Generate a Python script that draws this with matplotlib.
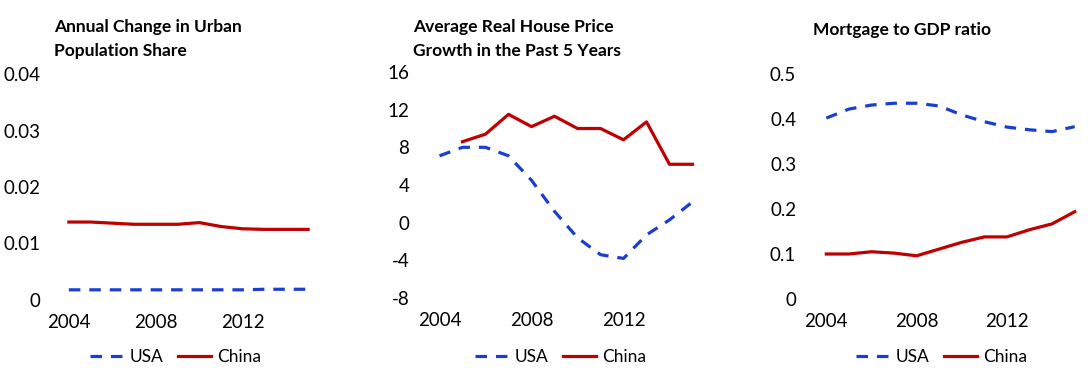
import numpy as np
import matplotlib.pyplot as plt

years = np.arange(2004, 2016)

# panel 1: annual change in urban population share
urban_usa = [0.0018, 0.0018, 0.0018, 0.0018, 0.0018, 0.0018, 0.0018, 0.0018, 0.0018, 0.0019, 0.0019, 0.0019]
urban_china = [0.0138, 0.0138, 0.0136, 0.0134, 0.0134, 0.0134, 0.0137, 0.0130, 0.0126, 0.0125, 0.0125, 0.0125]

# panel 2: average real house price growth, past 5 years
house_usa = [7.1, 8.0, 8.0, 7.1, 4.5, 1.2, -1.6, -3.4, -3.8, -1.3, 0.3, 2.2]
house_china = [np.nan, 8.6, 9.4, 11.5, 10.2, 11.3, 10.0, 10.0, 8.8, 10.7, 6.2, 6.2]

# panel 3: mortgage to GDP ratio
mort_usa = [0.402, 0.422, 0.431, 0.435, 0.435, 0.429, 0.409, 0.394, 0.382, 0.376, 0.372, 0.383]
mort_china = [0.100, 0.100, 0.105, 0.102, 0.096, 0.111, 0.126, 0.138, 0.138, 0.154, 0.167, 0.194]

titles = ['Annual Change in Urban\nPopulation Share',
          'Average Real House Price\nGrowth in the Past 5 Years',
          'Mortgage to GDP ratio']
yticks = [[0, 0.01, 0.02, 0.03, 0.04],
          [-8, -4, 0, 4, 8, 12, 16],
          [0, 0.1, 0.2, 0.3, 0.4, 0.5]]
ylabels = [['0', '0.01', '0.02', '0.03', '0.04'],
           ['-8', '-4', '0', '4', '8', '12', '16'],
           ['0', '0.1', '0.2', '0.3', '0.4', '0.5']]
xticks = [2004, 2008, 2012]

plt.rcParams['font.family'] = ['Lato', 'DejaVu Sans']

W, H = 1088, 373
fig = plt.figure(figsize=(W / 100, H / 100), dpi=100)

# axes boxes in pixels: left, right, top, bottom
boxes = [(58, 319, 74, 300), (428, 704, 72, 298), (815, 1086, 74, 299)]
title_pos = [(54, 19), (413, 19), (813, 22)]
legend_x = [90, 475, 856]
ypad = [12.5, 13.5, 13.5]
data = [(urban_usa, urban_china), (house_usa, house_china), (mort_usa, mort_china)]

for i in range(3):
    l, r, t, b = boxes[i]
    ax = fig.add_axes([l / W, 1 - b / H, (r - l) / W, (b - t) / H])
    usa, china = data[i]
    lu, = ax.plot(years, usa, color='#1a3fd0', lw=2.3, label='USA')
    lu.set_dashes([3.6, 2.8])
    ax.plot(years, china, color='#c00000', lw=2.3, label='China')
    ax.set_xlim(2003.5, 2015.5)
    ax.set_ylim(yticks[i][0], yticks[i][-1])
    ax.set_yticks(yticks[i])
    ax.set_yticklabels(ylabels[i])
    ax.set_xticks(xticks)
    ax.set_xticklabels([str(x) for x in xticks])
    ax.tick_params(length=0, labelsize=13.5, colors='black')
    ax.tick_params(axis='y', pad=ypad[i])
    ax.tick_params(axis='x', pad=10)
    for s in ax.spines.values():
        s.set_visible(False)
    ax.patch.set_alpha(0)
    ax.legend(loc='center left', bbox_to_anchor=((legend_x[i] - l) / (r - l), (b - 357) / (b - t)),
              ncol=2, frameon=False, fontsize=12.5, handlelength=1.9, handletextpad=0.4,
              columnspacing=0.8, borderpad=0, borderaxespad=0)
    tx, ty = title_pos[i]
    fig.text(tx / W, 1 - ty / H, titles[i], ha='left', va='top',
             fontsize=12.5, fontweight='bold', linespacing=1.6)

fig.savefig('out.png', dpi=100)
